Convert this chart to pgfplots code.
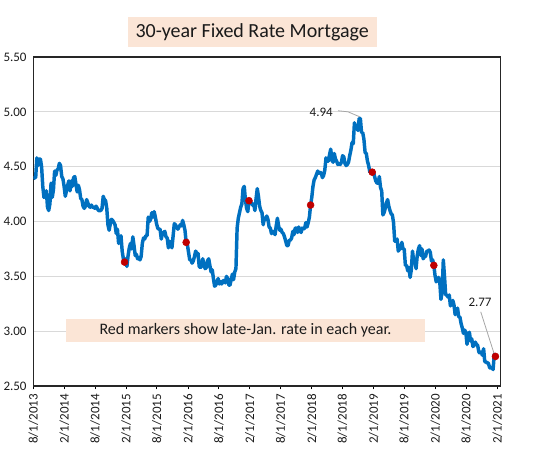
\documentclass[border=0pt]{standalone}
\usepackage{pgfplots}
\pgfplotsset{compat=1.18}
\usepackage{pgfplotstable}
\usepackage{fontspec}
\setmainfont{Carlito}
\definecolor{peach}{HTML}{FBE5D6}
\definecolor{lineblue}{HTML}{0070C0}
\definecolor{mred}{HTML}{C00000}
\definecolor{gridgray}{HTML}{D9D9D9}
\definecolor{txt}{HTML}{1A1A1A}
% weekly 30-year fixed rate, first week of Aug 2013 to Jan 21, 2021 (one row per week)
\pgfplotstableread[row sep=\\]{
y\\
4.39\\ 4.40\\ 4.40\\ 4.58\\ 4.51\\ 4.57\\ 4.57\\ 4.50\\ 4.32\\ 4.22\\ 4.23\\ 4.28\\ 4.13\\ 4.10\\
4.16\\ 4.35\\ 4.22\\ 4.29\\ 4.46\\ 4.42\\ 4.47\\ 4.48\\
4.53\\ 4.51\\ 4.41\\ 4.39\\ 4.32\\ 4.23\\ 4.28\\ 4.33\\ 4.37\\ 4.28\\ 4.37\\ 4.32\\ 4.40\\
4.41\\ 4.34\\ 4.27\\ 4.33\\ 4.29\\ 4.21\\ 4.20\\ 4.14\\ 4.12\\ 4.14\\ 4.20\\ 4.17\\ 4.14\\
4.13\\ 4.15\\ 4.13\\ 4.13\\ 4.12\\ 4.14\\ 4.12\\ 4.10\\ 4.10\\ 4.10\\ 4.12\\ 4.23\\ 4.20\\
4.19\\ 4.12\\ 3.97\\ 3.92\\ 3.98\\ 4.02\\ 4.01\\ 3.99\\ 3.97\\ 3.89\\ 3.93\\ 3.80\\ 3.83\\
3.87\\ 3.73\\ 3.66\\ 3.63\\ 3.66\\ 3.59\\ 3.69\\ 3.76\\ 3.80\\ 3.75\\ 3.86\\ 3.78\\ 3.69\\
3.70\\ 3.66\\ 3.67\\ 3.65\\ 3.68\\ 3.80\\ 3.85\\ 3.84\\ 3.87\\ 3.87\\ 4.04\\ 4.00\\ 4.02\\
4.08\\ 4.04\\ 4.09\\ 4.04\\ 3.98\\ 3.94\\ 3.93\\ 3.93\\ 3.84\\ 3.89\\ 3.90\\ 3.91\\ 3.86\\
3.85\\ 3.76\\ 3.82\\ 3.79\\ 3.76\\ 3.87\\ 3.98\\ 3.97\\ 3.95\\ 3.93\\ 3.95\\ 3.97\\ 3.96\\ 4.01\\
3.97\\ 3.92\\ 3.81\\ 3.79\\ 3.72\\ 3.65\\ 3.65\\ 3.62\\ 3.64\\ 3.68\\ 3.73\\ 3.71\\ 3.71\\
3.59\\ 3.58\\ 3.59\\ 3.66\\ 3.61\\ 3.57\\ 3.58\\ 3.64\\ 3.66\\ 3.60\\ 3.54\\ 3.56\\ 3.48\\
3.41\\ 3.42\\ 3.45\\ 3.48\\ 3.43\\ 3.45\\ 3.43\\ 3.46\\ 3.46\\ 3.44\\ 3.50\\ 3.48\\ 3.42\\
3.42\\ 3.47\\ 3.52\\ 3.47\\ 3.54\\ 3.57\\ 3.94\\ 4.03\\ 4.08\\ 4.13\\ 4.16\\ 4.30\\ 4.32\\
4.20\\ 4.12\\ 4.09\\ 4.19\\ 4.19\\ 4.17\\ 4.15\\ 4.16\\ 4.10\\ 4.21\\ 4.30\\ 4.23\\ 4.14\\
4.10\\ 4.08\\ 3.97\\ 4.03\\ 4.02\\ 4.05\\ 4.02\\ 3.95\\ 3.94\\ 3.89\\ 3.91\\ 3.90\\ 3.88\\
3.96\\ 4.03\\ 3.96\\ 3.92\\ 3.93\\ 3.90\\ 3.89\\ 3.86\\ 3.82\\ 3.78\\ 3.78\\ 3.83\\ 3.83\\
3.85\\ 3.91\\ 3.88\\ 3.94\\ 3.94\\ 3.90\\ 3.95\\ 3.92\\ 3.90\\ 3.94\\ 3.93\\ 3.94\\ 3.99\\
3.95\\ 3.99\\ 4.04\\ 4.15\\ 4.22\\ 4.32\\ 4.38\\ 4.40\\ 4.43\\ 4.46\\ 4.44\\ 4.45\\ 4.44\\
4.40\\ 4.42\\ 4.47\\ 4.58\\ 4.55\\ 4.55\\ 4.61\\ 4.66\\ 4.56\\ 4.54\\ 4.62\\ 4.57\\ 4.55\\
4.52\\ 4.53\\ 4.52\\ 4.54\\ 4.60\\ 4.59\\ 4.53\\ 4.51\\ 4.52\\ 4.54\\ 4.60\\ 4.65\\ 4.72\\
4.71\\ 4.90\\ 4.85\\ 4.86\\ 4.83\\ 4.94\\ 4.94\\ 4.81\\ 4.81\\ 4.75\\ 4.63\\ 4.62\\ 4.55\\
4.51\\ 4.45\\ 4.45\\ 4.45\\ 4.46\\ 4.41\\ 4.37\\ 4.35\\ 4.35\\ 4.41\\ 4.31\\ 4.28\\ 4.06\\
4.08\\ 4.12\\ 4.17\\ 4.20\\ 4.14\\ 4.10\\ 4.07\\ 4.06\\ 3.99\\ 3.82\\ 3.82\\ 3.84\\ 3.73\\
3.75\\ 3.75\\ 3.81\\ 3.75\\ 3.75\\ 3.60\\ 3.60\\ 3.55\\ 3.58\\ 3.49\\ 3.56\\ 3.73\\ 3.64\\
3.65\\ 3.57\\ 3.69\\ 3.75\\ 3.78\\ 3.69\\ 3.75\\ 3.66\\ 3.68\\ 3.68\\ 3.73\\ 3.73\\ 3.74\\
3.72\\ 3.64\\ 3.65\\ 3.60\\ 3.51\\ 3.45\\ 3.47\\ 3.49\\ 3.45\\ 3.29\\ 3.36\\ 3.65\\ 3.50\\
3.33\\ 3.33\\ 3.31\\ 3.33\\ 3.23\\ 3.26\\ 3.28\\ 3.24\\ 3.15\\ 3.18\\ 3.21\\ 3.13\\ 3.13\\
3.07\\ 3.03\\ 2.98\\ 3.01\\ 2.99\\ 2.88\\ 2.96\\ 2.99\\ 2.91\\ 2.93\\ 2.86\\ 2.87\\ 2.90\\
2.88\\ 2.87\\ 2.81\\ 2.80\\ 2.81\\ 2.78\\ 2.84\\ 2.72\\ 2.72\\ 2.71\\ 2.71\\ 2.67\\ 2.66\\ 2.67\\
2.65\\ 2.79\\ 2.77\\
}\rates
% late-January readings (days after 8/1/2013)
\pgfplotstableread[row sep=\\]{
d y\\
539 3.63\\
903 3.81\\
1274 4.19\\
1638 4.15\\
2002 4.45\\
2366 3.60\\
2730 2.77\\
}\jan
\begin{document}
\begin{tikzpicture}[x=0.75pt,y=0.75pt]
\useasboundingbox (0,0) rectangle (547,455);
\begin{axis}[
  at={(24.975pt,51.75pt)}, anchor=south west,
  scale only axis, width=350.55pt, height=246.75pt,
  xmin=0, xmax=2761, ymin=2.5, ymax=5.5,
  ytick={2.5,3,3.5,4,4.5,5,5.5},
  ymajorgrids, grid style={gridgray, line width=0.9pt},
  /pgf/number format/assume math mode=true,
  yticklabel style={xshift=-1.5pt, /pgf/number format/.cd, fixed, fixed zerofill, precision=2},
  ytick style={draw=none},
  ytick pos=left, xtick pos=bottom,
  xtick={0,184,365,549,730,914,1096,1280,1461,1645,1826,2010,2191,2375,2557,2741},
  xticklabels={8/1/2013,2/1/2014,8/1/2014,2/1/2015,8/1/2015,2/1/2016,8/1/2016,2/1/2017,8/1/2017,2/1/2018,8/1/2018,2/1/2019,8/1/2019,2/1/2020,8/1/2020,2/1/2021},
  xticklabel style={rotate=90, anchor=east},
  xtick align=outside, major tick length=2.5pt,
  xtick style={black, line width=0.75pt},
  tick label style={font=\fontsize{9.75}{11}\selectfont, text=txt},
  axis line style={black!85, line width=1pt},
]
\addplot[lineblue, line width=2.6pt, line join=round, no marks] table[x expr=\coordindex*7, y=y]{\rates};
\addplot[only marks, mark=*, mark size=2.6pt, mark options={draw=mred, fill=mred}] table[x=d, y=y]{\jan};
\draw[gray!70, line width=0.6pt] (axis cs:1800,5.01) -- (axis cs:1859,5.0) -- (axis cs:1928,4.955);
\node[font=\fontsize{9.75}{11}\selectfont, text=txt] at (axis cs:1701,5.0) {4.94};
\draw[gray!70, line width=0.6pt] (axis cs:2643,3.177) -- (axis cs:2721,2.80);
\node[font=\fontsize{9.75}{11}\selectfont, text=txt] at (axis cs:2639,3.266) {2.77};
\end{axis}
\node[fill=peach, minimum width=186.75pt, minimum height=22.05pt, inner sep=0pt,
      font=\fontsize{15}{18}\selectfont, text=txt] at (252.2,423) {30-year Fixed Rate Mortgage};
\node[fill=peach, minimum width=269.25pt, minimum height=16.8pt, inner sep=0pt,
      font=\fontsize{12}{14}\selectfont, text=txt] at (245.5,124.5) {Red markers show late-Jan. rate in each year.};
\end{tikzpicture}
\end{document}
